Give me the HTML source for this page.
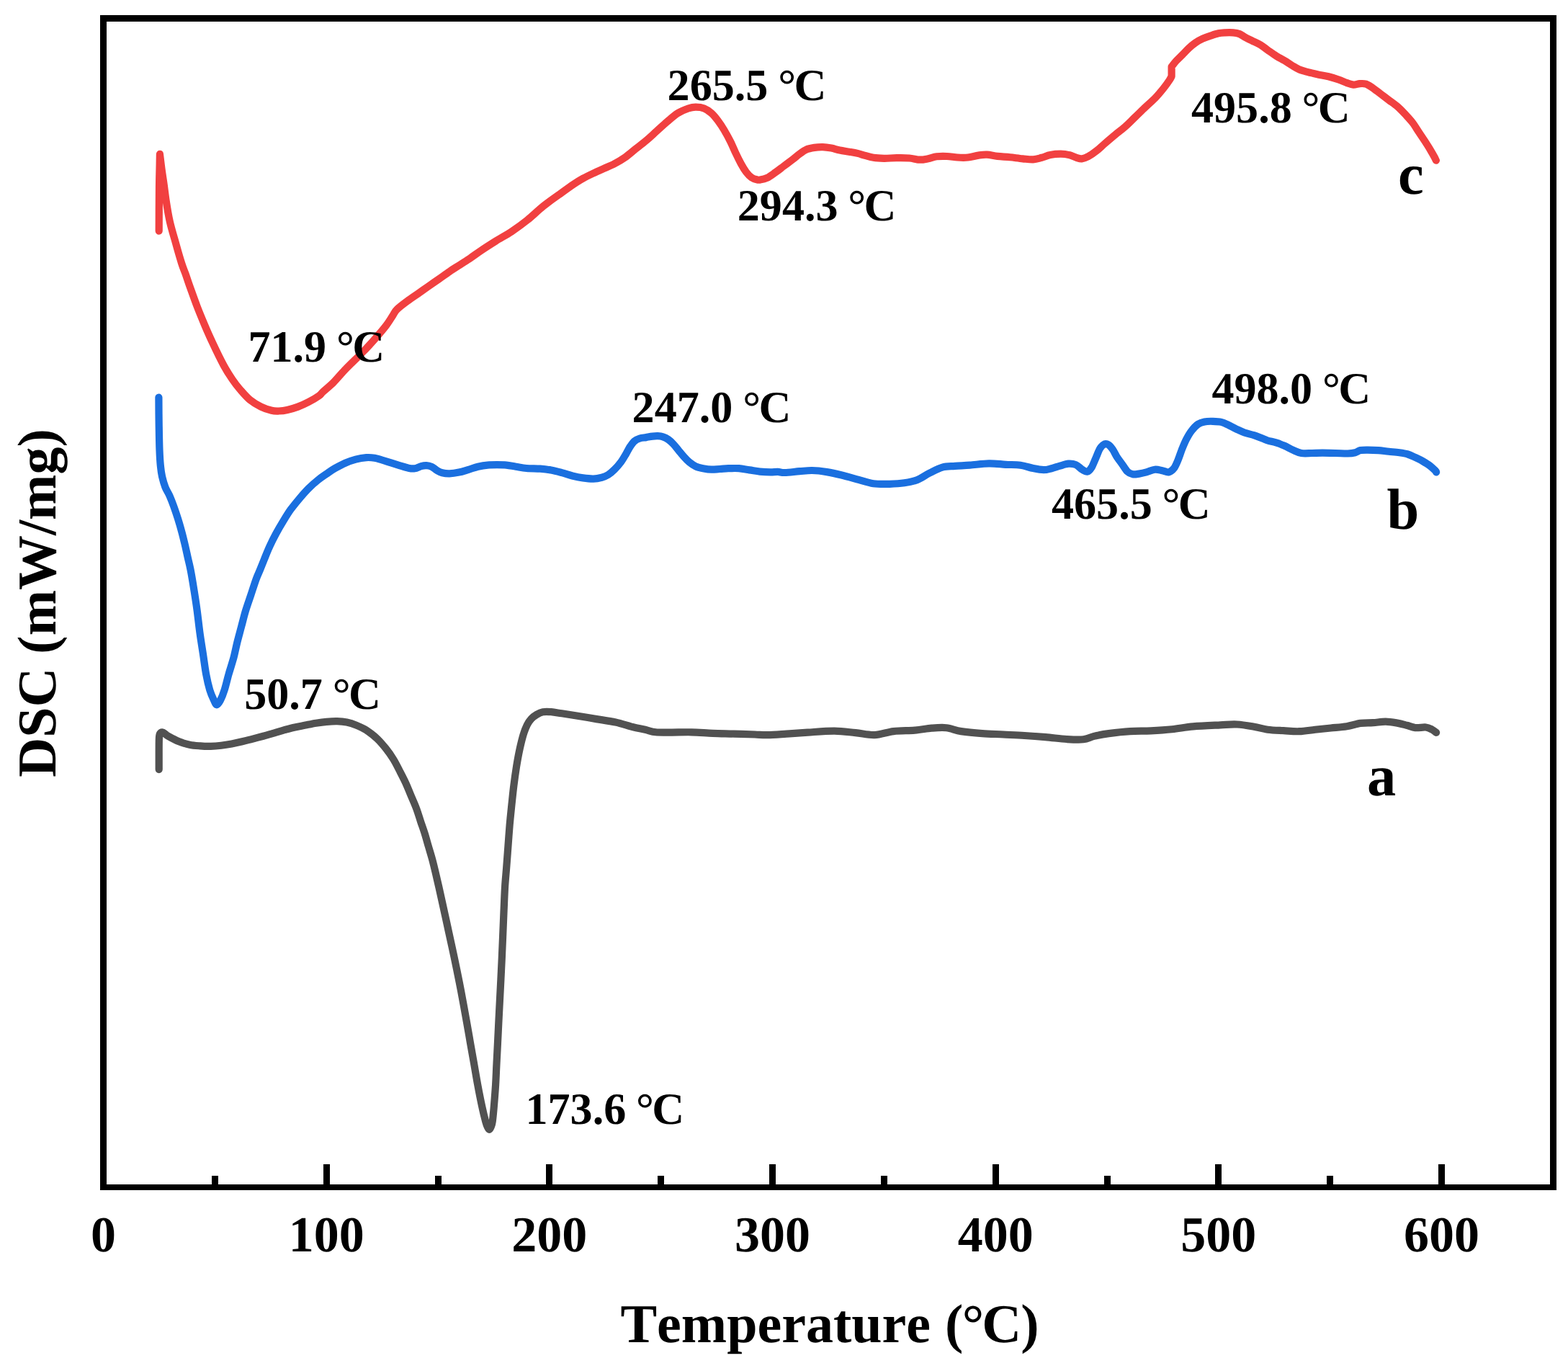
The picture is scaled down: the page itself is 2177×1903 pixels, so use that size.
<!DOCTYPE html>
<html lang="en">
<head>
<meta charset="utf-8">
<title>DSC curves</title>
<style>
html,body{margin:0;padding:0;background:#fff;}
body{width:2177px;height:1903px;overflow:hidden;}
svg{display:block;}
text{font-family:"Liberation Serif","Times New Roman",Times,serif;font-weight:bold;fill:#000;font-kerning:none;text-rendering:geometricPrecision;}
.tick{font-size:70px;text-anchor:middle;}
.title{font-size:76px;text-anchor:middle;}
.peak{font-size:62.1px;}
.series{font-size:80.5px;}
.curve{fill:none;stroke-width:10.2;stroke-linecap:round;stroke-linejoin:round;}
</style>
</head>
<body>
<svg xmlns="http://www.w3.org/2000/svg" width="2177" height="1903" viewBox="0 0 2177 1903">
<rect x="0" y="0" width="2177" height="1903" fill="#ffffff"/>
<path class="curve" stroke="#515151" d="M220.7 1068.1C220.7 1064.2 220.7 1052.2 220.7 1045.0C220.7 1037.8 220.7 1029.4 220.9 1025.0C221.1 1020.6 221.2 1020.0 222.0 1018.5C222.8 1017.0 224.2 1016.2 225.5 1016.3C226.8 1016.3 228.1 1017.8 229.5 1018.8C230.9 1019.8 230.7 1020.2 233.9 1022.0C237.1 1023.8 243.6 1027.3 248.5 1029.3C253.4 1031.2 258.3 1032.7 263.2 1033.7C268.1 1034.7 272.9 1035.0 277.8 1035.4C282.7 1035.8 287.5 1036.0 292.4 1035.9C297.3 1035.8 302.2 1035.4 307.1 1034.8C312.0 1034.2 316.8 1033.4 321.7 1032.5C326.6 1031.6 331.4 1030.5 336.3 1029.3C341.2 1028.1 346.1 1026.9 351.0 1025.6C355.9 1024.3 360.7 1023.0 365.6 1021.7C370.5 1020.4 375.3 1019.0 380.2 1017.6C385.1 1016.2 390.0 1014.6 394.9 1013.2C399.8 1011.9 404.6 1010.6 409.5 1009.5C414.4 1008.4 419.2 1007.6 424.1 1006.6C429.0 1005.6 433.9 1004.5 438.8 1003.7C443.7 1002.9 448.5 1002.2 453.4 1001.8C458.3 1001.4 463.3 1001.1 468.0 1001.2C472.7 1001.3 477.1 1001.6 481.5 1002.5C485.9 1003.4 490.0 1004.7 494.6 1006.6C499.2 1008.5 504.4 1010.7 509.3 1013.9C514.2 1017.1 519.5 1021.4 523.9 1025.6C528.3 1029.8 531.9 1034.2 535.6 1038.8C539.3 1043.4 542.7 1048.3 545.9 1053.4C549.1 1058.5 551.7 1063.9 554.6 1069.5C557.5 1075.1 560.7 1081.2 563.4 1087.1C566.1 1092.9 568.2 1098.8 570.7 1104.6C573.2 1110.4 575.9 1116.3 578.1 1122.2C580.3 1128.1 582.0 1134.0 583.9 1139.8C585.8 1145.6 588.0 1151.4 589.8 1157.3C591.6 1163.2 593.2 1169.1 594.9 1174.9C596.6 1180.8 598.4 1186.6 600.0 1192.4C601.6 1198.2 602.8 1203.4 604.4 1210.0C606.0 1216.6 607.7 1224.1 609.5 1232.0C611.3 1239.9 613.1 1248.3 615.1 1257.4C617.1 1266.5 619.4 1276.9 621.5 1286.7C623.6 1296.5 625.8 1306.3 627.9 1316.0C630.0 1325.7 632.0 1335.2 634.0 1345.0C636.0 1354.8 637.6 1362.5 639.9 1374.6C642.2 1386.7 645.6 1405.7 647.8 1417.8C650.0 1429.9 651.2 1437.3 652.9 1447.1C654.6 1456.8 656.4 1466.5 658.1 1476.3C659.8 1486.0 661.4 1495.8 663.2 1505.6C665.0 1515.4 667.2 1526.4 669.0 1534.9C670.8 1543.4 672.9 1551.9 674.2 1556.8C675.5 1561.7 676.1 1562.7 677.0 1564.5C677.9 1566.3 678.5 1567.8 679.3 1567.8C680.1 1567.8 680.9 1566.3 681.6 1564.5C682.3 1562.7 683.0 1561.7 683.7 1556.8C684.4 1551.9 685.2 1543.4 685.9 1534.9C686.6 1526.4 687.5 1515.4 688.1 1505.6C688.7 1495.8 689.0 1486.0 689.5 1476.3C690.0 1466.5 690.5 1456.8 691.0 1447.1C691.5 1437.3 691.9 1427.6 692.4 1417.8C692.9 1408.0 693.4 1398.2 693.9 1388.5C694.4 1378.8 694.9 1369.0 695.4 1359.3C695.9 1349.5 696.3 1339.9 696.8 1330.0C697.2 1320.1 697.7 1310.3 698.1 1300.0C698.5 1289.7 698.9 1279.3 699.4 1268.0C699.9 1256.7 700.4 1242.6 701.0 1232.0C701.6 1221.4 702.5 1213.7 703.2 1204.2C703.9 1194.7 704.7 1184.7 705.4 1174.9C706.1 1165.1 706.8 1155.4 707.6 1145.6C708.5 1135.8 709.5 1125.6 710.5 1116.3C711.5 1107.0 712.3 1098.8 713.4 1090.0C714.5 1081.2 715.8 1072.0 717.1 1063.7C718.5 1055.4 719.9 1047.5 721.5 1040.2C723.1 1032.9 724.9 1025.4 726.6 1019.8C728.3 1014.2 729.9 1010.3 731.7 1006.6C733.5 1002.9 735.4 1000.2 737.6 997.8C739.8 995.4 742.2 993.6 744.9 992.0C747.6 990.4 750.3 988.9 753.7 988.3C757.1 987.7 761.0 987.9 765.4 988.2C769.8 988.5 774.4 989.5 780.0 990.3C785.6 991.1 791.0 991.9 799.0 993.2C807.0 994.5 819.0 996.6 828.3 998.1C837.6 999.6 846.4 1000.7 854.7 1002.5C863.0 1004.3 871.3 1007.3 878.1 1009.0C884.9 1010.7 890.3 1011.6 895.7 1012.8C901.1 1014.0 904.5 1015.7 910.4 1016.3C916.3 1016.9 922.6 1016.6 930.9 1016.6C939.2 1016.6 950.4 1016.1 960.2 1016.3C970.0 1016.5 979.7 1017.4 989.5 1017.8C999.3 1018.2 1009.0 1018.3 1018.8 1018.6C1028.6 1018.9 1040.3 1019.2 1048.1 1019.5C1055.9 1019.8 1058.3 1020.2 1065.6 1020.1C1072.9 1020.0 1082.7 1019.2 1092.0 1018.6C1101.3 1018.0 1110.2 1017.3 1121.3 1016.6C1132.4 1015.9 1147.5 1014.5 1158.6 1014.6C1169.7 1014.7 1178.6 1016.3 1187.9 1017.2C1197.2 1018.1 1205.5 1020.5 1214.3 1020.1C1223.1 1019.8 1231.3 1016.2 1240.6 1015.1C1249.9 1014.0 1261.1 1014.4 1269.9 1013.7C1278.7 1013.0 1286.1 1011.3 1293.4 1010.7C1300.7 1010.1 1307.1 1009.5 1313.9 1010.2C1320.7 1010.9 1326.1 1013.8 1334.4 1015.1C1342.7 1016.4 1353.9 1017.4 1363.7 1018.1C1373.5 1018.8 1383.2 1019.0 1393.0 1019.5C1402.8 1020.0 1412.5 1020.4 1422.3 1021.0C1432.1 1021.6 1441.8 1022.3 1451.6 1023.1C1461.4 1023.9 1472.1 1025.5 1480.9 1026.0C1489.7 1026.5 1498.0 1027.0 1504.3 1026.3C1510.6 1025.6 1513.0 1023.3 1518.9 1021.9C1524.8 1020.5 1531.2 1019.2 1539.5 1018.1C1547.8 1017.0 1559.0 1015.7 1568.8 1015.1C1578.5 1014.5 1588.2 1014.8 1598.0 1014.3C1607.8 1013.8 1617.5 1013.2 1627.3 1012.2C1637.1 1011.2 1645.4 1009.4 1656.6 1008.4C1667.8 1007.4 1684.0 1006.8 1694.2 1006.3C1704.4 1005.8 1709.8 1005.1 1717.6 1005.5C1725.4 1005.9 1734.0 1007.5 1741.1 1008.7C1748.2 1009.9 1753.2 1011.8 1760.0 1012.7C1766.8 1013.6 1774.7 1013.8 1782.0 1014.2C1789.3 1014.6 1796.6 1015.5 1803.9 1015.2C1811.2 1015.0 1818.6 1013.5 1825.9 1012.7C1833.2 1011.9 1840.5 1011.2 1847.8 1010.5C1855.1 1009.8 1863.0 1009.4 1869.8 1008.3C1876.6 1007.2 1882.7 1004.8 1888.8 1003.9C1894.9 1003.0 1900.4 1003.6 1906.3 1003.2C1912.2 1002.8 1918.3 1001.6 1923.9 1001.7C1929.5 1001.8 1935.1 1002.8 1940.0 1003.6C1944.9 1004.5 1949.0 1005.7 1953.2 1006.8C1957.4 1007.9 1960.5 1009.6 1964.9 1010.1C1969.3 1010.6 1975.6 1009.1 1979.5 1009.5C1983.4 1009.9 1985.9 1011.5 1988.3 1012.7C1990.7 1013.9 1993.1 1016.1 1994.1 1016.8"/>
<path class="curve" stroke="#1A6FDF" d="M220.4 551.6C220.4 557.8 220.5 576.2 220.7 588.5C220.9 600.8 221.1 615.3 221.5 625.1C221.9 634.9 222.3 641.0 222.9 647.1C223.5 653.2 224.0 656.8 225.1 661.7C226.2 666.6 227.8 671.9 229.5 676.3C231.2 680.7 233.5 683.7 235.4 688.1C237.3 692.5 239.2 697.3 241.2 702.7C243.1 708.1 245.3 714.4 247.1 720.3C248.9 726.1 250.6 731.9 252.2 737.8C253.8 743.6 255.2 749.5 256.6 755.4C258.0 761.2 259.2 767.0 260.5 772.9C261.8 778.8 263.0 782.9 264.5 790.5C266.0 798.1 267.8 809.0 269.3 818.5C270.8 828.0 272.4 838.0 273.7 847.8C275.0 857.6 276.0 867.4 277.3 877.1C278.6 886.9 280.2 896.5 281.7 906.3C283.2 916.0 284.5 927.0 286.1 935.6C287.7 944.2 289.4 951.5 291.2 957.6C293.0 963.7 295.5 968.8 297.1 972.2C298.7 975.7 299.5 978.3 301.0 978.3C302.5 978.3 304.1 975.7 305.9 972.2C307.7 968.8 309.8 963.7 311.7 957.6C313.6 951.5 315.5 942.9 317.6 935.6C319.7 928.3 322.2 921.0 324.2 913.7C326.1 906.4 327.5 899.0 329.3 891.7C331.1 884.4 333.2 877.1 335.1 869.8C337.1 862.5 338.8 855.1 341.0 847.8C343.2 840.5 345.9 833.2 348.3 825.9C350.7 818.6 353.5 809.7 355.6 803.9C357.7 798.1 359.1 795.7 361.0 791.0C362.9 786.3 364.9 781.4 367.1 775.9C369.3 770.4 371.7 764.2 374.4 758.3C377.1 752.4 380.0 746.6 383.2 740.7C386.4 734.9 390.0 728.8 393.4 723.2C396.8 717.6 400.0 712.2 403.7 707.1C407.4 702.0 411.3 697.3 415.4 692.4C419.5 687.5 424.1 682.2 428.5 677.8C432.9 673.4 437.6 669.4 441.7 666.1C445.8 662.8 449.2 660.6 453.0 658.0C456.8 655.4 460.2 652.8 464.6 650.3C469.0 647.8 474.4 644.8 479.3 642.7C484.2 640.6 489.0 638.9 493.9 637.6C498.8 636.3 504.1 635.4 508.5 635.1C512.9 634.8 516.3 635.1 520.2 635.7C524.1 636.4 528.1 637.8 532.0 639.0C535.9 640.2 539.8 641.5 543.7 642.7C547.6 643.9 551.5 645.1 555.4 646.3C559.3 647.5 563.7 649.0 567.1 649.7C570.5 650.4 573.0 650.7 575.9 650.3C578.8 649.9 581.9 647.8 584.6 647.1C587.3 646.4 589.5 646.0 592.0 646.1C594.5 646.2 596.9 646.7 599.3 647.8C601.7 648.9 604.2 651.5 606.6 652.9C609.0 654.3 611.0 655.5 613.9 656.2C616.8 656.9 620.2 657.4 624.1 657.3C628.0 657.2 632.9 656.5 637.3 655.6C641.7 654.7 646.1 653.1 650.5 651.8C654.9 650.5 659.3 648.8 663.7 647.8C668.1 646.8 672.4 646.0 676.8 645.6C681.2 645.2 685.6 645.2 690.0 645.2C694.4 645.2 698.8 645.2 703.2 645.6C707.6 646.0 711.7 647.1 716.3 647.8C720.9 648.5 725.4 649.5 731.0 650.0C736.6 650.5 744.3 650.3 750.0 650.7C755.7 651.1 760.0 651.6 765.0 652.5C770.0 653.4 775.1 654.8 780.0 656.1C784.9 657.4 789.7 659.3 794.6 660.5C799.5 661.7 804.4 662.7 809.3 663.4C814.2 664.1 819.5 664.7 823.9 664.6C828.3 664.5 832.2 663.6 835.6 662.7C839.0 661.8 841.5 660.8 844.4 659.0C847.3 657.2 850.3 654.6 853.2 651.7C856.1 648.8 859.3 645.1 862.0 641.5C864.7 637.9 867.1 633.5 869.3 629.8C871.5 626.1 873.1 622.4 875.1 619.5C877.1 616.6 878.8 614.0 881.0 612.2C883.2 610.4 885.6 609.4 888.3 608.5C891.0 607.6 894.2 607.6 897.1 607.1C900.0 606.6 903.2 605.9 905.9 605.6C908.6 605.3 910.8 605.1 913.2 605.2C915.6 605.3 918.1 605.5 920.5 606.3C922.9 607.1 925.4 608.3 927.8 610.0C930.2 611.7 932.7 614.0 935.1 616.6C937.5 619.2 940.0 622.5 942.4 625.4C944.8 628.3 947.3 631.5 949.8 634.2C952.2 636.9 954.4 639.3 957.1 641.5C959.8 643.7 962.7 645.8 965.9 647.3C969.1 648.8 972.5 649.5 976.1 650.2C979.8 650.9 983.9 651.6 987.8 651.7C991.7 651.8 995.6 651.2 999.5 651.0C1003.4 650.8 1006.8 650.3 1011.2 650.2C1015.6 650.1 1021.0 649.8 1025.9 650.2C1030.8 650.6 1035.6 651.7 1040.5 652.4C1045.4 653.1 1050.2 654.1 1055.1 654.6C1060.0 655.1 1065.6 655.4 1069.8 655.4C1074.0 655.4 1076.7 654.8 1080.0 654.9C1083.3 655.0 1084.5 656.1 1089.5 656.0C1094.5 655.9 1103.7 654.7 1110.0 654.2C1116.3 653.7 1121.2 652.9 1127.5 653.0C1133.8 653.1 1141.2 654.0 1148.0 655.1C1154.8 656.2 1161.3 657.7 1168.6 659.5C1175.9 661.3 1184.7 663.9 1192.0 665.9C1199.3 667.9 1205.3 670.2 1212.5 671.2C1219.7 672.2 1228.0 671.9 1235.2 671.8C1242.4 671.6 1249.4 671.2 1255.7 670.3C1262.0 669.4 1267.4 668.5 1273.2 666.2C1279.0 663.9 1284.9 659.4 1290.8 656.5C1296.7 653.6 1302.5 650.2 1308.4 648.6C1314.3 647.0 1319.7 647.4 1326.0 646.9C1332.3 646.4 1338.7 646.3 1346.5 645.7C1354.3 645.1 1364.6 643.5 1372.9 643.4C1381.2 643.2 1389.0 644.4 1396.3 644.8C1403.6 645.2 1410.4 644.8 1416.8 645.7C1423.2 646.6 1429.0 649.0 1434.4 650.1C1439.8 651.2 1444.7 652.2 1449.0 652.2C1453.3 652.2 1456.2 651.1 1460.0 650.2C1463.8 649.3 1467.8 647.7 1471.7 646.6C1475.6 645.5 1479.7 644.0 1483.4 643.7C1487.1 643.5 1490.5 643.8 1493.7 645.1C1496.9 646.4 1499.7 650.1 1502.4 651.7C1505.1 653.3 1507.6 655.1 1509.8 654.6C1512.0 654.1 1513.6 652.0 1515.6 648.8C1517.5 645.6 1519.5 640.0 1521.5 635.6C1523.5 631.2 1525.3 625.6 1527.3 622.4C1529.2 619.2 1531.2 617.5 1533.2 616.6C1535.2 615.8 1537.0 616.1 1539.0 617.3C1541.0 618.5 1543.0 621.1 1544.9 623.9C1546.9 626.7 1548.5 630.8 1550.7 634.2C1552.9 637.6 1555.6 641.0 1558.1 644.4C1560.5 647.8 1563.0 652.3 1565.4 654.6C1567.8 656.9 1570.0 657.8 1572.7 658.3C1575.4 658.8 1578.3 658.1 1581.5 657.6C1584.7 657.1 1588.0 656.4 1591.7 655.4C1595.4 654.4 1599.7 652.1 1603.4 651.7C1607.1 651.3 1610.5 652.6 1613.7 653.2C1616.9 653.8 1619.7 655.9 1622.4 655.4C1625.1 654.9 1627.6 653.0 1629.8 650.2C1632.0 647.4 1633.6 643.1 1635.6 638.5C1637.5 633.9 1639.5 627.3 1641.5 622.4C1643.5 617.5 1645.1 613.4 1647.3 609.3C1649.5 605.2 1651.9 601.0 1654.6 597.6C1657.3 594.2 1660.5 590.8 1663.4 588.8C1666.3 586.8 1668.8 586.1 1672.2 585.4C1675.6 584.7 1680.0 584.7 1683.9 584.8C1687.8 584.9 1691.9 585.0 1695.6 585.9C1699.3 586.8 1702.5 588.6 1705.9 590.2C1709.3 591.8 1712.4 593.7 1716.1 595.4C1719.8 597.1 1723.6 599.0 1727.8 600.5C1732.0 602.0 1736.8 602.8 1741.0 604.1C1745.2 605.4 1749.5 607.3 1752.7 608.5C1755.9 609.7 1756.8 610.5 1760.0 611.5C1763.2 612.5 1767.8 613.2 1771.7 614.4C1775.6 615.6 1779.5 617.1 1783.4 618.8C1787.3 620.5 1791.2 622.9 1795.1 624.6C1799.0 626.3 1802.4 628.3 1806.8 629.0C1811.2 629.7 1816.6 629.1 1821.5 629.0C1826.4 628.9 1830.7 628.6 1836.1 628.6C1841.5 628.6 1847.8 628.9 1853.7 629.0C1859.6 629.1 1866.6 629.6 1871.2 629.5C1875.8 629.4 1878.6 629.0 1881.5 628.3C1884.4 627.6 1885.9 625.7 1888.8 625.1C1891.7 624.5 1894.8 624.6 1899.0 624.6C1903.2 624.6 1908.8 624.7 1913.7 625.1C1918.6 625.5 1923.4 626.3 1928.3 626.8C1933.2 627.3 1938.5 627.7 1942.9 628.3C1947.3 628.9 1950.9 629.4 1954.6 630.5C1958.3 631.6 1961.5 633.3 1964.9 634.9C1968.3 636.5 1971.7 638.0 1975.1 640.0C1978.5 642.0 1982.5 644.4 1985.4 646.6C1988.3 648.8 1991.2 651.7 1992.7 653.2C1994.2 654.7 1993.9 655.0 1994.1 655.4"/>
<path class="curve" stroke="#F14040" d="M220.7 320.6C220.7 315.5 220.8 300.1 220.8 290.0C220.9 279.9 220.9 269.2 221.0 260.0C221.1 250.8 221.3 242.7 221.5 235.0C221.7 227.3 221.8 217.3 221.9 213.8C222.3 217.2 223.5 226.9 224.4 233.9C225.3 240.9 226.6 248.6 227.6 255.9C228.6 263.2 229.2 269.3 230.5 277.8C231.8 286.3 233.5 297.4 235.7 307.1C237.9 316.9 240.9 326.6 243.7 336.3C246.4 346.1 249.9 358.3 252.2 365.6C254.5 372.9 255.6 374.7 257.5 380.0C259.4 385.3 260.8 390.0 263.5 397.5C266.2 405.0 270.0 415.9 273.5 425.0C277.0 434.1 280.8 443.2 284.5 452.0C288.2 460.8 291.7 468.5 296.0 477.7C300.3 486.9 306.1 498.9 310.5 507.0C314.9 515.1 318.7 520.9 322.5 526.5C326.3 532.1 329.1 535.8 333.2 540.5C337.3 545.2 342.1 551.0 347.0 555.0C351.9 559.0 357.4 562.1 362.4 564.6C367.4 567.1 373.0 568.8 377.1 569.8C381.2 570.8 383.7 570.6 387.3 570.5C390.9 570.4 394.6 570.0 399.0 569.0C403.4 568.0 408.8 566.4 413.7 564.6C418.6 562.8 423.4 560.7 428.3 558.1C433.2 555.5 439.5 551.7 442.9 549.3C446.3 546.9 445.1 546.9 448.5 543.8C451.9 540.7 458.3 535.5 463.2 530.6C468.1 525.7 472.9 519.6 477.8 514.5C482.7 509.4 487.5 504.8 492.4 499.9C497.3 495.0 502.2 490.3 507.1 485.2C512.0 480.1 516.8 474.7 521.7 469.1C526.6 463.5 532.4 456.7 536.3 451.6C540.2 446.5 542.6 442.1 545.1 438.4C547.6 434.7 547.6 433.0 551.0 429.6C554.4 426.2 560.7 421.5 565.6 417.9C570.5 414.2 575.3 411.1 580.2 407.7C585.1 404.3 590.0 400.8 594.9 397.4C599.8 394.0 604.6 390.6 609.5 387.2C614.4 383.8 619.2 380.2 624.1 376.9C629.0 373.6 633.9 370.6 638.8 367.4C643.7 364.2 648.5 361.2 653.4 357.9C658.3 354.6 662.2 351.6 668.0 347.7C673.8 343.8 681.3 339.0 688.3 334.6C695.3 330.2 702.9 326.4 710.2 321.5C717.5 316.6 724.9 311.3 732.2 305.4C739.5 299.5 746.9 292.2 754.2 286.3C761.5 280.4 769.1 275.2 776.1 270.2C783.1 265.1 790.5 259.7 796.0 256.0C801.5 252.3 804.6 250.4 809.3 247.8C813.9 245.2 819.0 242.8 823.9 240.5C828.8 238.2 833.6 236.1 838.5 233.9C843.4 231.7 848.3 229.9 853.2 227.3C858.1 224.7 862.9 221.9 867.8 218.5C872.7 215.1 877.5 210.7 882.4 206.8C887.3 202.9 892.2 199.2 897.1 195.1C902.0 191.0 906.8 186.4 911.7 182.0C916.6 177.6 921.4 173.0 926.3 168.8C931.2 164.7 936.1 160.2 941.0 157.1C945.9 154.0 951.5 151.9 955.6 150.5C959.8 149.1 962.2 148.7 965.9 148.7C969.6 148.7 974.0 149.1 977.6 150.5C981.2 151.9 984.6 154.3 987.8 157.1C991.0 159.9 993.7 163.4 996.6 167.3C999.5 171.2 1002.5 175.6 1005.4 180.5C1008.3 185.4 1011.5 191.2 1014.2 196.6C1016.9 202.0 1019.1 207.6 1021.5 212.7C1023.9 217.8 1026.4 222.9 1028.8 227.3C1031.2 231.7 1033.7 235.8 1036.1 239.0C1038.5 242.2 1041.0 244.6 1043.4 246.3C1045.8 248.0 1048.8 248.8 1050.7 249.3C1052.6 249.9 1052.6 250.0 1055.0 249.6C1057.4 249.2 1061.4 248.6 1065.0 246.9C1068.6 245.2 1072.7 242.0 1076.6 239.3C1080.5 236.6 1084.4 233.4 1088.3 230.5C1092.2 227.6 1096.3 224.5 1100.0 221.7C1103.7 218.9 1107.0 216.0 1110.2 213.7C1113.4 211.4 1115.6 209.3 1119.0 207.8C1122.4 206.3 1126.8 205.5 1130.7 204.9C1134.6 204.3 1138.5 204.1 1142.4 204.2C1146.3 204.3 1150.3 204.9 1154.2 205.6C1158.1 206.3 1161.8 207.7 1165.9 208.5C1170.0 209.3 1174.9 210.0 1179.0 210.7C1183.1 211.4 1187.0 212.0 1190.7 212.9C1194.4 213.8 1197.3 214.9 1201.0 215.9C1204.7 216.9 1208.3 218.2 1212.7 218.8C1217.1 219.5 1221.9 219.7 1227.3 219.8C1232.7 219.9 1239.1 219.2 1244.9 219.2C1250.8 219.1 1257.0 219.1 1262.4 219.5C1267.8 219.9 1272.7 221.6 1277.1 221.7C1281.5 221.8 1284.9 220.9 1288.8 220.2C1292.7 219.5 1296.2 217.8 1300.5 217.3C1304.8 216.8 1310.0 216.8 1314.8 217.0C1319.6 217.2 1324.7 218.2 1329.5 218.5C1334.3 218.8 1339.1 219.0 1343.9 218.5C1348.7 218.0 1354.1 216.2 1358.5 215.6C1362.9 215.0 1365.8 214.5 1370.2 214.7C1374.6 214.9 1379.5 216.3 1384.9 216.9C1390.3 217.5 1396.6 217.7 1402.4 218.3C1408.2 218.9 1414.6 219.8 1420.0 220.3C1425.4 220.8 1430.2 221.6 1434.6 221.3C1439.0 221.1 1442.4 219.8 1446.3 218.8C1450.2 217.8 1453.7 215.9 1458.1 215.1C1462.5 214.2 1468.3 213.7 1472.7 213.7C1477.1 213.7 1480.8 214.2 1484.4 215.1C1488.1 215.9 1491.7 217.9 1494.6 218.8C1497.5 219.7 1499.3 220.6 1502.0 220.3C1504.7 220.1 1507.3 219.1 1510.7 217.3C1514.1 215.5 1518.6 212.4 1522.5 209.3C1526.4 206.2 1529.8 202.8 1534.2 199.0C1538.6 195.2 1544.2 190.4 1548.8 186.6C1553.4 182.8 1557.5 180.0 1562.0 176.0C1566.5 172.0 1571.2 167.1 1576.0 162.5C1580.8 157.9 1585.8 152.9 1590.5 148.5C1595.2 144.1 1599.7 140.3 1603.9 136.0C1608.1 131.7 1612.3 126.5 1615.6 122.4C1618.9 118.3 1621.7 114.2 1623.5 111.5C1625.3 108.8 1626.1 106.9 1626.6 106.0C1626.6 103.8 1626.6 94.8 1626.6 92.5C1627.7 91.2 1630.6 87.2 1633.2 84.4C1635.8 81.6 1639.1 78.5 1642.0 75.6C1644.9 72.7 1647.8 69.5 1650.7 66.8C1653.6 64.1 1656.3 61.7 1659.5 59.5C1662.7 57.3 1666.1 55.4 1669.8 53.7C1673.5 52.0 1677.8 50.5 1681.5 49.3C1685.2 48.1 1688.5 47.0 1691.7 46.3C1694.9 45.6 1697.1 45.5 1700.5 45.3C1703.9 45.1 1708.8 45.0 1712.2 45.3C1715.6 45.6 1718.3 46.1 1721.0 47.1C1723.7 48.1 1725.4 49.9 1728.3 51.5C1731.2 53.1 1734.8 54.8 1738.5 56.6C1742.2 58.4 1746.5 60.2 1750.2 62.4C1753.9 64.6 1756.8 67.2 1760.5 69.8C1764.2 72.4 1768.3 75.4 1772.2 77.8C1776.1 80.2 1780.2 82.2 1783.9 84.4C1787.6 86.6 1790.8 89.0 1794.1 91.0C1797.4 93.0 1800.3 95.0 1804.0 96.5C1807.7 98.0 1811.7 99.0 1816.0 100.2C1820.3 101.4 1825.2 102.4 1830.0 103.4C1834.8 104.4 1839.8 105.1 1844.5 106.3C1849.2 107.5 1854.2 109.0 1858.5 110.5C1862.8 112.0 1866.8 113.9 1870.2 115.1C1873.6 116.3 1876.1 117.4 1879.0 117.6C1881.9 117.8 1884.9 116.3 1887.8 116.1C1890.7 115.9 1893.7 115.7 1896.6 116.6C1899.5 117.5 1902.0 119.4 1905.4 121.7C1908.8 124.0 1913.2 127.6 1917.1 130.5C1921.0 133.4 1924.9 136.4 1928.8 139.3C1932.7 142.2 1936.8 144.9 1940.5 148.1C1944.2 151.3 1947.3 154.7 1950.7 158.3C1954.1 162.0 1957.8 165.8 1961.0 170.0C1964.2 174.2 1966.9 178.8 1969.8 183.2C1972.7 187.6 1975.8 192.2 1978.5 196.3C1981.2 200.5 1983.7 204.4 1985.9 208.1C1988.1 211.8 1990.4 215.9 1991.7 218.3C1993.0 220.7 1993.5 222.0 1993.9 222.7"/>
<path fill="#000" fill-rule="evenodd" d="M139 21H2161V1652H139ZM148 30H2152V1644H148Z"/>
<rect x="294.00" y="1632" width="9" height="13.00" fill="#000"/>
<rect x="449.00" y="1616" width="9" height="29.00" fill="#000"/>
<rect x="604.00" y="1632" width="9" height="13.00" fill="#000"/>
<rect x="758.00" y="1616" width="9" height="29.00" fill="#000"/>
<rect x="913.00" y="1632" width="9" height="13.00" fill="#000"/>
<rect x="1068.00" y="1616" width="9" height="29.00" fill="#000"/>
<rect x="1223.00" y="1632" width="9" height="13.00" fill="#000"/>
<rect x="1378.00" y="1616" width="9" height="29.00" fill="#000"/>
<rect x="1533.00" y="1632" width="9" height="13.00" fill="#000"/>
<rect x="1687.00" y="1616" width="9" height="29.00" fill="#000"/>
<rect x="1842.00" y="1632" width="9" height="13.00" fill="#000"/>
<rect x="1997.00" y="1616" width="9" height="29.00" fill="#000"/>
<text class="tick" x="143.50" y="1736.6">0</text>
<text class="tick" x="453.17" y="1736.6">100</text>
<text class="tick" x="762.83" y="1736.6">200</text>
<text class="tick" x="1072.50" y="1736.6">300</text>
<text class="tick" x="1382.17" y="1736.6">400</text>
<text class="tick" x="1691.84" y="1736.6">500</text>
<text class="tick" x="2001.50" y="1736.6">600</text>
<text class="title" x="1152" y="1863.4">Temperature <tspan dx="1">(</tspan><tspan dx="-1.6">°</tspan><tspan dx="-2.7">C</tspan><tspan dx="-1.0">)</tspan></text>
<text class="title" transform="translate(76.5 837) rotate(-90)" x="0" y="0">DSC (mW/mg)</text>
<text class="peak" x="344.4" y="502.2">71.9 <tspan dx="-1.7">°</tspan><tspan dx="-2.6">C</tspan></text>
<text class="peak" x="926.6" y="139.0">265.5 <tspan dx="-1.7">°</tspan><tspan dx="-2.6">C</tspan></text>
<text class="peak" x="1023.8" y="305.5">294.3 <tspan dx="-1.7">°</tspan><tspan dx="-2.6">C</tspan></text>
<text class="peak" x="1654.0" y="170.2">495.8 <tspan dx="-1.7">°</tspan><tspan dx="-2.6">C</tspan></text>
<text class="peak" x="877.6" y="586.0">247.0 <tspan dx="-1.7">°</tspan><tspan dx="-2.6">C</tspan></text>
<text class="peak" x="1460" y="719.9">465.5 <tspan dx="-1.7">°</tspan><tspan dx="-2.6">C</tspan></text>
<text class="peak" x="1682.4" y="559.8">498.0 <tspan dx="-1.7">°</tspan><tspan dx="-2.6">C</tspan></text>
<text class="peak" x="339.2" y="984.0">50.7 <tspan dx="-1.7">°</tspan><tspan dx="-2.6">C</tspan></text>
<text class="peak" x="729.5" y="1559.8">173.6 <tspan dx="-1.7">°</tspan><tspan dx="-2.6">C</tspan></text>
<text class="series" x="1941" y="268.8">c</text>
<text class="series" x="1925.5" y="733.5">b</text>
<text class="series" x="1898" y="1103.5">a</text>
</svg>
</body>
</html>
